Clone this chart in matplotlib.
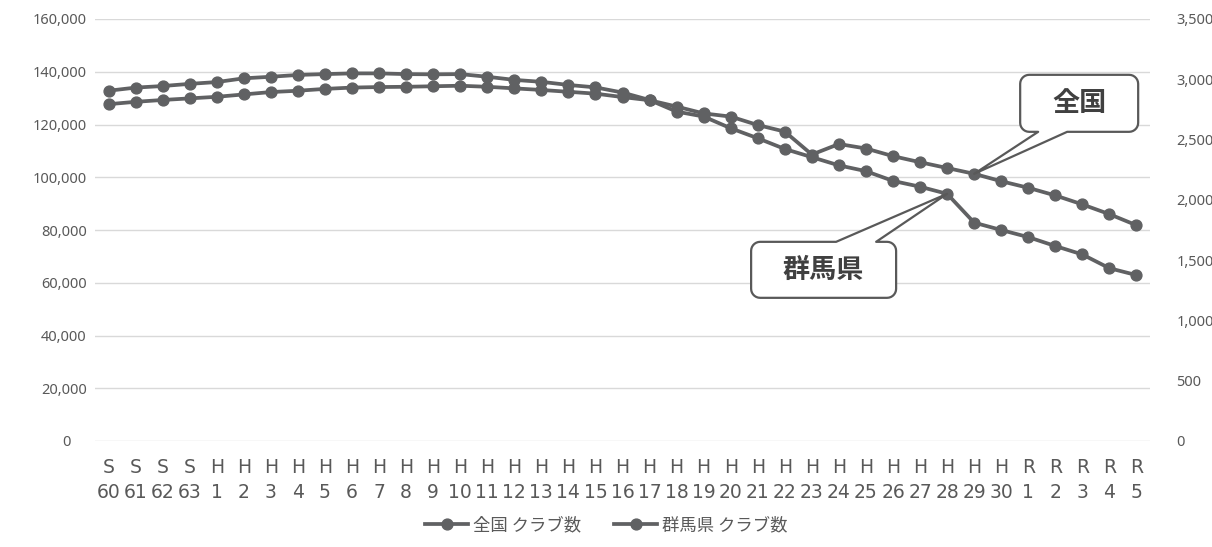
import matplotlib
matplotlib.use("Agg")
import matplotlib.pyplot as plt
from matplotlib.patches import Polygon
from matplotlib.lines import Line2D
import numpy as np

# 年度（元号の頭文字／年）
categories = [
    "S\n60", "S\n61", "S\n62", "S\n63",
    "H\n1", "H\n2", "H\n3", "H\n4", "H\n5", "H\n6", "H\n7", "H\n8", "H\n9", "H\n10",
    "H\n11", "H\n12", "H\n13", "H\n14", "H\n15", "H\n16", "H\n17", "H\n18", "H\n19", "H\n20",
    "H\n21", "H\n22", "H\n23", "H\n24", "H\n25", "H\n26", "H\n27", "H\n28", "H\n29", "H\n30",
    "R\n1", "R\n2", "R\n3", "R\n4", "R\n5",
]

# 全国 クラブ数（左軸）
national_clubs = [
    127700, 128600, 129300, 129900,
    130500, 131400, 132300, 132800, 133500, 134000, 134200, 134300, 134500, 134700,
    134300, 133700, 133100, 132400, 131700, 130400, 129200, 126800, 124200, 123000,
    119800, 117300, 108600, 112600, 110900, 108000, 105700, 103500, 101300, 98500,
    96000, 93100, 89700, 86000, 81800,
]

# 群馬県 クラブ数（右軸）
gunma_clubs = [
    2905, 2931, 2944, 2962,
    2977, 3008, 3021, 3036, 3043, 3049, 3049, 3043, 3041, 3043,
    3021, 2995, 2979, 2953, 2933, 2890, 2828, 2732, 2691, 2594,
    2511, 2422, 2354, 2286, 2238, 2157, 2109, 2050, 1811, 1750,
    1691, 1617, 1547, 1433, 1376,
]

left_ticks = [0, 20000, 40000, 60000, 80000, 100000, 120000, 140000, 160000]
right_ticks = [0, 500, 1000, 1500, 2000, 2500, 3000, 3500]

LINE = "#606163"
TEXT = "#595959"
GRID = "#d9d9d9"
JP = ["Noto Sans CJK JP", "DejaVu Sans"]

fig = plt.figure(figsize=(12.12, 5.47), dpi=100)
ax = fig.add_axes([95 / 1212, 1 - 441 / 547, 1055 / 1212, 422 / 547])
ax2 = ax.twinx()

x = np.arange(len(categories))
style = dict(color=LINE, lw=2.7, marker="o", ms=7.8, solid_capstyle="round")
ax.plot(x, national_clubs, **style, zorder=3)
ax2.plot(x, gunma_clubs, **style, zorder=3)

ax.set_xlim(-0.5, len(categories) - 0.5)
ax.set_ylim(0, 160000)
ax2.set_ylim(0, 3500)
ax.set_yticks(left_ticks)
ax2.set_yticks(right_ticks)
ax.set_yticklabels([f"{v:,}" if v else "0    " for v in left_ticks],
                   fontsize=10.5, family="Noto Sans", color=TEXT)
ax2.set_yticklabels([f"{v:,}" for v in right_ticks],
                    fontsize=10.5, family="Noto Sans", color=TEXT)
ax.set_xticks(x)
ax.set_xticklabels(categories, fontsize=13.5, family="DejaVu Sans", color=TEXT,
                   linespacing=1.35)

ax.grid(axis="y", color=GRID, lw=1)
ax.set_axisbelow(True)
for a in (ax, ax2):
    for s in a.spines.values():
        s.set_visible(False)
    a.tick_params(length=0)
ax.tick_params(axis="y", pad=6)
ax2.tick_params(axis="y", pad=19)
ax.tick_params(axis="x", pad=12.5)

# 凡例
handles = [Line2D([], [], color=LINE, lw=2.7, marker="o", ms=7.8),
           Line2D([], [], color=LINE, lw=2.7, marker="o", ms=7.8)]
fig.legend(handles, ["全国 クラブ数", "群馬県 クラブ数"], loc="center",
           bbox_to_anchor=(0.5, 22 / 547), ncol=2, frameon=False,
           prop=dict(family=JP, size=12.5), labelcolor=TEXT,
           handlelength=2.5, handletextpad=0.25, columnspacing=1.9)


def callout(axes, xi, yv, label, box, base, side):
    """Rounded callout box with a wedge pointing at (xi, yv) of axes."""
    tx, ty = axes.transData.transform((xi, yv))
    x0, y0, x1, y1 = tx + box[0], ty + box[1], tx + box[2], ty + box[3]
    r = 9
    t = np.linspace(0, np.pi / 2, 8)

    def arc(cx, cy, a0):
        return [(cx + r * np.cos(a0 + a), cy + r * np.sin(a0 + a)) for a in t]

    verts = [(x0 + r, y0)]
    if side == "bottom":
        verts += [(tx + base[0], y0), (tx, ty), (tx + base[1], y0)]
    verts += arc(x1 - r, y0 + r, -np.pi / 2)
    verts += arc(x1 - r, y1 - r, 0)
    if side == "top":
        verts += [(tx + base[1], y1), (tx, ty), (tx + base[0], y1)]
    verts += arc(x0 + r, y1 - r, np.pi / 2)
    verts += arc(x0 + r, y0 + r, np.pi)
    poly = Polygon(verts, closed=True, transform=None, facecolor="white",
                   edgecolor=TEXT, lw=1.6, joinstyle="round", zorder=5)
    fig.add_artist(poly)
    fig.text((x0 + x1) / 2 / fig.dpi / fig.get_figwidth(),
             (y0 + y1) / 2 / fig.dpi / fig.get_figheight(), label,
             ha="center", va="center", family=JP, weight="bold",
             fontsize=19.5, color="#404040", zorder=6)


callout(ax, 32, national_clubs[32], "全国",
        box=(46, 42, 164, 99), base=(64, 93), side="bottom")
callout(ax2, 31, gunma_clubs[31], "群馬県",
        box=(-196, -104, -51, -48), base=(-111, -71), side="top")

fig.savefig("out.png", dpi=100)
